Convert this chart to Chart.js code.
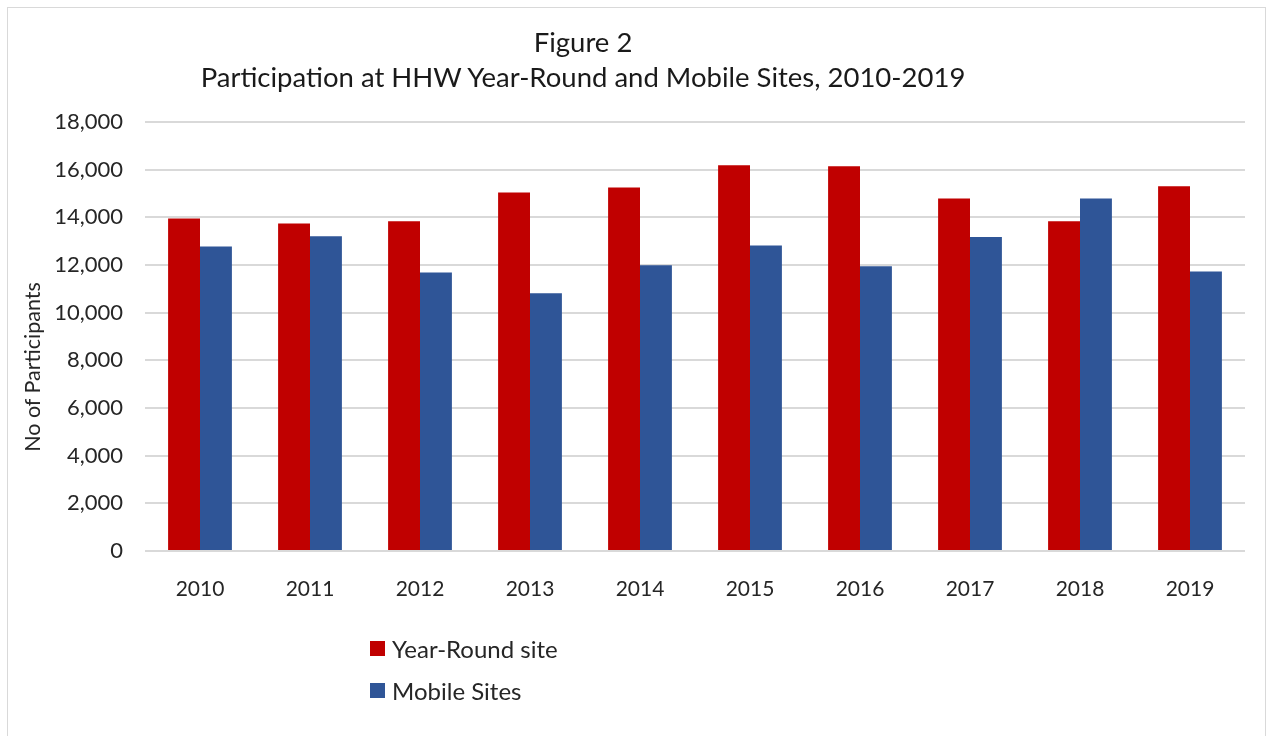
<!DOCTYPE html>
<html>
<head>
<meta charset="utf-8">
<script src="https://cdn.jsdelivr.net/npm/chart.js"></script>
<style>
body{margin:0;background:#fff;font-family:Lato,sans-serif;}
#wrap{position:relative;width:1270px;height:736px;overflow:hidden;}
#frame{position:absolute;left:7px;top:7px;width:1257px;height:760px;border:1px solid #d9d9d9;}
#title{position:absolute;left:183px;width:800px;top:24px;text-align:center;font-size:27.5px;color:#1a1a1a;line-height:35px;}
#ytitle{position:absolute;left:-118px;top:354px;width:300px;height:26px;line-height:26px;text-align:center;font-size:21.5px;color:#262626;transform:rotate(-90deg);}
#legend{position:absolute;left:370px;top:627px;font-size:24px;color:#262626;}
.item{height:42px;display:flex;align-items:center;}
.sw{width:15px;height:15px;margin-right:7px;}
canvas{position:absolute;left:0;top:0;}
</style>
</head>
<body>
<div id="wrap">
  <div id="frame"></div>
  <canvas id="bars" width="1270" height="736"></canvas>
  <div id="title"></div>
  <div id="ytitle"></div>
  <div id="legend"></div>
</div>
<script>
// data
const years = ['2010','2011','2012','2013','2014','2015','2016','2017','2018','2019'];
const yearRound = [13950, 13740, 13840, 15040, 15250, 16190, 16140, 14790, 13840, 15300];
const mobile = [12780, 13210, 11690, 10810, 11990, 12820, 11950, 13170, 14790, 11730];
const seriesNames = ['Year-Round site', 'Mobile Sites'];
const seriesColors = ['#c00000', '#2f5597'];
const titleLines = ['Figure 2', 'Participation at HHW Year-Round and Mobile Sites, 2010-2019'];
const yTitle = 'No of Participants';

// title, axis title + legend as html text
document.getElementById('title').innerHTML = titleLines.map(t => '<div>' + t + '</div>').join('');
document.getElementById('ytitle').textContent = yTitle;
let leg = document.getElementById('legend');
seriesNames.forEach((n, i) => {
  leg.innerHTML += '<div class="item"><span class="sw" style="background:' + seriesColors[i] + '"></span>' + n + '</div>';
});

let ctx = document.getElementById('bars').getContext('2d');
new Chart(ctx, {
  type: 'bar',
  data: {
    labels: years,
    datasets: [
      { label: seriesNames[0], data: yearRound, backgroundColor: seriesColors[0] },
      { label: seriesNames[1], data: mobile, backgroundColor: seriesColors[1] }
    ]
  },
  options: {
    responsive: false,
    animation: false,
    barPercentage: 1,
    categoryPercentage: 0.58,
    layout: { padding: { top: 122, right: 25, bottom: 135, left: 0 } },
    plugins: {
      legend: { display: false },
      title: { display: false },
      tooltip: { enabled: false }
    },
    scales: {
      x: {
        grid: { display: false },
        border: { display: false },
        ticks: { color: '#262626', font: { family: 'Lato', size: 21 }, padding: 18 },
        afterFit: s => { s.height = 50; }
      },
      y: {
        min: 0,
        max: 18000,
        grid: { color: '#d9d9d9', lineWidth: 2, drawTicks: false },
        border: { display: false },
        ticks: {
          stepSize: 2000,
          padding: 22,
          color: '#262626',
          font: { family: 'Lato', size: 22 },
          callback: v => v.toLocaleString('en-US')
        },
        afterFit: s => { s.width = 145; }
      }
    }
  }
});
</script>
</body>
</html>
